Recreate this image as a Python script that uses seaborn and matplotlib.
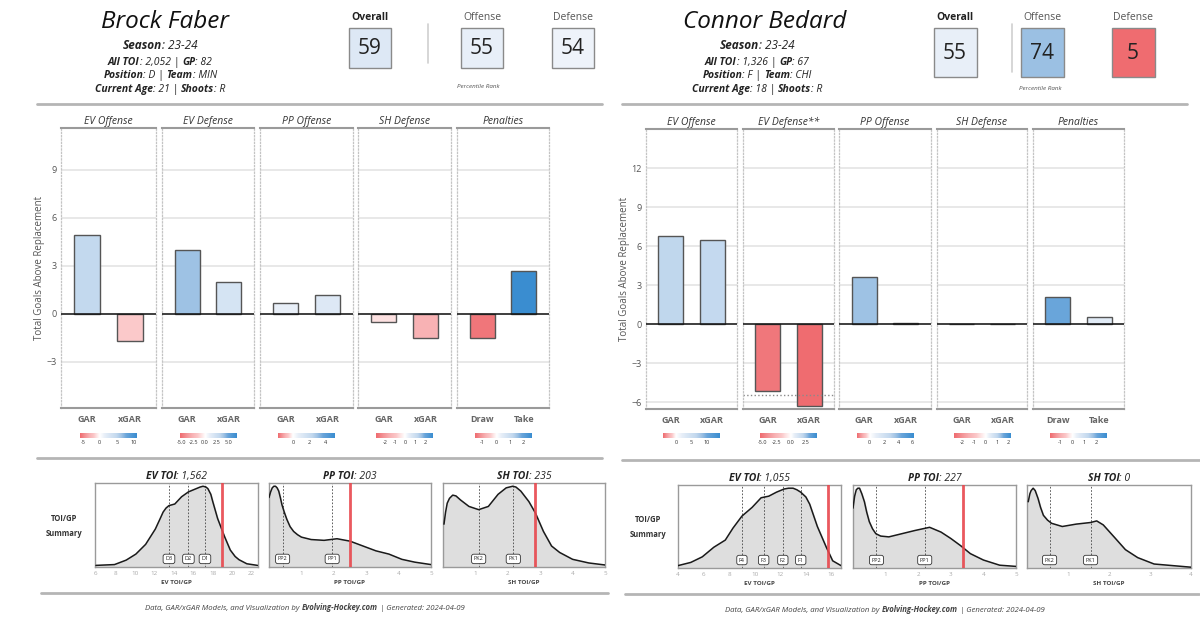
import numpy as np
import seaborn as sns
import matplotlib.pyplot as plt
from matplotlib.colors import LinearSegmentedColormap, Normalize, TwoSlopeNorm
from matplotlib.patches import Rectangle

# header info
players = ["Brock Faber", "Connor Bedard"]
seasons = ["23-24", "23-24"]
all_toi = ["2,052", "1,326"]
games = ["82", "67"]
positions = ["D", "F"]
teams = ["MIN", "CHI"]
ages = ["21", "18"]
shoots = ["R", "R"]
pct_labels = ["Overall", "Offense", "Defense"]
faber_pct = [59, 55, 54]
bedard_pct = [55, 74, 5]

# GAR bars
faber_titles = ["EV Offense", "EV Defense", "PP Offense", "SH Defense", "Penalties"]
bedard_titles = ["EV Offense", "EV Defense**", "PP Offense", "SH Defense", "Penalties"]
bar_cats = [["GAR", "xGAR"], ["GAR", "xGAR"], ["GAR", "xGAR"], ["GAR", "xGAR"], ["Draw", "Take"]]
faber_gar = [[4.9, -1.7], [4.0, 2.0], [0.65, 1.15], [-0.5, -1.5], [-1.5, 2.65]]
bedard_gar = [[6.8, 6.45], [-5.1, -6.25], [3.6, 0.1], [0.02, 0.02], [2.1, 0.55]]
bedard_ev_def_ref = -5.41
faber_scale = [(-5.8, 10.9), (-5.5, 6.8), (-1.8, 5.1), (-2.9, 2.8), (-1.6, 2.6)]
faber_scale_ticks = [[-5, 0, 5, 10], [-5, -2.5, 0, 2.5, 5], [0, 2, 4], [-2, -1, 0, 1, 2], [-1, 0, 1, 2]]
bedard_scale = [(-4.3, 14.6), (-5.5, 4.6), (-1.8, 6.1), (-2.8, 2.2), (-1.9, 2.9)]
bedard_scale_ticks = [[0, 5, 10], [-5, -2.5, 0, 2.5], [0, 2, 4, 6], [-2, -1, 0, 1, 2], [-1, 0, 1, 2]]
faber_yticks = [-3, 0, 3, 6, 9]
bedard_yticks = [-6, -3, 0, 3, 6, 9, 12]

# TOI/GP summary
toi_names = ["EV TOI", "PP TOI", "SH TOI"]
toi_xlabels = ["EV TOI/GP", "PP TOI/GP", "SH TOI/GP"]
faber_toi = ["1,562", "203", "235"]
bedard_toi = ["1,055", "227", "0"]
faber_player_gp = [18.95, 2.5, 2.85]
bedard_player_gp = [15.75, 3.36, None]

faber_ev_x = [6.0, 7.9, 9.1, 10.1, 11.1, 12.1, 12.6, 12.9, 13.2, 13.5, 14.1, 14.8, 15.5, 16.3, 16.7, 17.0, 17.3,
              17.5, 17.8, 18.0, 18.5, 19.2, 19.8, 20.3, 20.7, 21.5, 22.6]
faber_ev_y = [0.02, 0.03, 0.085, 0.16, 0.28, 0.47, 0.6, 0.68, 0.73, 0.76, 0.78, 0.87, 0.93, 0.97, 0.99, 1.0, 0.99,
              0.97, 0.9, 0.81, 0.6, 0.38, 0.21, 0.13, 0.09, 0.04, 0.02]
faber_pp_x = [0.0, 0.05, 0.1, 0.15, 0.2, 0.25, 0.3, 0.35, 0.4, 0.47, 0.55, 0.65, 0.76, 0.88, 1.0, 1.3, 1.7, 2.1,
              2.5, 2.9, 3.3, 3.7, 4.1, 4.5, 5.0]
faber_pp_y = [0.86, 0.93, 0.98, 1.0, 1.0, 0.98, 0.94, 0.86, 0.77, 0.68, 0.59, 0.5, 0.44, 0.4, 0.37, 0.34, 0.33, 0.35,
              0.32, 0.26, 0.2, 0.16, 0.095, 0.06, 0.03]
faber_sh_x = [0.03, 0.08, 0.13, 0.2, 0.3, 0.4, 0.54, 0.8, 1.1, 1.4, 1.7, 1.95, 2.05, 2.15, 2.25, 2.4, 2.65, 2.85,
              3.1, 3.35, 3.6, 4.0, 4.5, 5.0]
faber_sh_y = [0.53, 0.68, 0.79, 0.85, 0.89, 0.88, 0.83, 0.75, 0.71, 0.75, 0.9, 0.98, 0.99, 1.0, 0.99, 0.94, 0.81,
              0.67, 0.44, 0.26, 0.18, 0.095, 0.05, 0.025]
bedard_ev_x = [4.0, 5.0, 5.9, 6.8, 7.7, 8.3, 9.0, 9.8, 10.5, 11.1, 11.7, 12.3, 12.65, 13.0, 13.3, 13.6, 14.0, 14.3,
               14.9, 15.6, 16.1, 16.75]
bedard_ev_y = [0.03, 0.07, 0.14, 0.26, 0.35, 0.5, 0.65, 0.76, 0.88, 0.9, 0.95, 0.99, 1.0, 1.0, 0.98, 0.95, 0.89,
               0.8, 0.52, 0.26, 0.09, 0.03]
bedard_pp_x = [0.0, 0.05, 0.1, 0.15, 0.2, 0.27, 0.35, 0.42, 0.5, 0.6, 0.7, 0.85, 1.1, 1.5, 1.9, 2.35, 2.7, 3.0,
               3.3, 3.6, 4.0, 4.5, 5.0]
bedard_pp_y = [0.75, 0.9, 0.98, 1.0, 1.0, 0.93, 0.83, 0.7, 0.58, 0.49, 0.43, 0.4, 0.39, 0.43, 0.47, 0.51, 0.45,
               0.37, 0.28, 0.18, 0.1, 0.035, 0.02]
bedard_sh_x = [0.03, 0.07, 0.1, 0.15, 0.2, 0.27, 0.33, 0.4, 0.5, 0.6, 0.86, 1.2, 1.55, 1.7, 1.86, 2.14, 2.4, 2.7,
               3.1, 4.0]
bedard_sh_y = [0.83, 0.93, 0.97, 1.0, 0.97, 0.87, 0.76, 0.66, 0.6, 0.56, 0.52, 0.55, 0.57, 0.59, 0.54, 0.38, 0.23,
               0.13, 0.05, 0.01]

faber_marks = [[("D3", 13.5), ("D2", 15.5), ("D1", 17.2)], [("PP2", 0.42), ("PP1", 1.95)], [("PK2", 1.1), ("PK1", 2.17)]]
bedard_marks = [[("F4", 9.0), ("F3", 10.7), ("F2", 12.2), ("F1", 13.6)], [("PP2", 0.72), ("PP1", 2.2)], [("PK2", 0.55), ("PK1", 1.55)]]
faber_dens_xlim = [(5.9, 22.65), (0, 5), (0, 5)]
faber_dens_ticks = [[6, 8, 10, 12, 14, 16, 18, 20, 22], [1, 2, 3, 4, 5], [1, 2, 3, 4, 5]]
bedard_dens_xlim = [(4, 16.75), (0, 5), (0, 4)]
bedard_dens_ticks = [[4, 6, 8, 10, 12, 14, 16], [1, 2, 3, 4, 5], [1, 2, 3, 4]]

footer = [("Data, GAR/xGAR Models, and Visualization by ", "normal"), ("Evolving-Hockey.com", "bold"),
          (" | Generated: 2024-04-09", "normal")]

sns.set_theme(style="white")
plt.rcParams['font.family'] = ['Open Sans', 'DejaVu Sans']

W, H = 1200, 621
fig = plt.figure(figsize=(W / 100, H / 100), dpi=100)
ov = fig.add_axes([0, 0, 1, 1])
ov.set_xlim(0, W)
ov.set_ylim(H, 0)
ov.axis('off')
renderer = fig.canvas.get_renderer()

cmap = LinearSegmentedColormap.from_list("gar", [
    (0.0, "#ef6c70"), (0.125, "#f39396"), (0.24, "#f8b2b4"), (0.35, "#fbc8c9"), (0.415, "#fde2e2"),
    (0.5, "#ffffff"), (0.565, "#e8eff8"), (0.615, "#dce8f5"), (0.73, "#c2d8ee"), (0.795, "#9fc2e4"),
    (0.86, "#6aa5da"), (1.0, "#3a8dd0")])
pct_norm = Normalize(10, 90)


def rect(x0, y0, x1, y1):
    return [x0 / W, 1 - y1 / H, (x1 - x0) / W, (y1 - y0) / H]


def text_w(s, size, weight, style):
    t = ov.text(0, 0, s, fontsize=size, fontweight=weight, fontstyle=style)
    w = t.get_window_extent(renderer).width
    t.remove()
    return w


def rich(x, y, parts, size, color="#222", style="italic"):
    # y is the visual middle of the line; parts share one baseline
    base = y + size * 100 / 72 * 0.36
    texts = []
    cur = 0.0
    for s, w in parts:
        adv = text_w("x" + s + "x", size, w, style) - text_w("xx", size, w, style)
        t = ov.text(cur, base, s, fontsize=size, fontweight=w, fontstyle=style,
                    color=color, ha='left', va='baseline')
        texts.append(t)
        cur += adv
    shift = x - cur / 2
    for t in texts:
        px, py = t.get_position()
        t.set_position((px + shift, py))


def header(i, cx, name_x, pcts, box_x, box_y, box_w, sep_x, pr_x, pr_y, line_x0):
    ov.text(name_x, 22, players[i], fontsize=17.5, fontstyle='italic', color='#111', ha='center', va='center')
    rich(cx, 45, [("Season", "bold"), (": " + seasons[i], "normal")], 8.5)
    rich(cx, 61, [("All TOI", "bold"), (": " + all_toi[i] + " | ", "normal"), ("GP", "bold"), (": " + games[i], "normal")], 7.5)
    rich(cx, 74.5, [("Position", "bold"), (": " + positions[i] + " | ", "normal"), ("Team", "bold"), (": " + teams[i], "normal")], 7.5)
    rich(cx, 88, [("Current Age", "bold"), (": " + ages[i] + " | ", "normal"), ("Shoots", "bold"), (": " + shoots[i], "normal")], 7.5)
    for lab, val, bx in zip(pct_labels, pcts, box_x):
        ov.add_patch(Rectangle((bx - box_w / 2, box_y[0]), box_w, box_y[1] - box_y[0],
                               facecolor=cmap(pct_norm(val)), edgecolor='#8a8a8a', lw=1))
        ov.text(bx, (box_y[0] + box_y[1]) / 2 + 1, str(val), fontsize=15, color='#222', ha='center', va='center')
        ov.text(bx, 17, lab, fontsize=7.5, color='#222' if lab == "Overall" else '#555',
                fontweight='bold' if lab == "Overall" else 'normal', ha='center', va='center')
    ov.plot([sep_x, sep_x], [24, box_y[1] - 5], color='#cfcfcf', lw=1.2)
    ov.text(pr_x, pr_y, "Percentile Rank", fontsize=4.5, fontstyle='italic', color='#555', ha='center', va='center')
    ov.plot([line_x0, line_x0 + 565], [104, 104], color='#b5b5b5', lw=2)


def bar_panels(titles, gar, scales, sticks, panels_x, py, yticks, ylim, ref=None):
    for k in range(5):
        x0, x1 = panels_x[k]
        ax = fig.add_axes(rect(x0, py[0], x1, py[1]))
        lo, hi = scales[k]
        norm = TwoSlopeNorm(vcenter=0, vmin=lo, vmax=hi)
        cols = [cmap(norm(v)) for v in gar[k]]
        sns.barplot(x=bar_cats[k], y=gar[k], hue=bar_cats[k], palette=dict(zip(bar_cats[k], cols)),
                    width=0.6, saturation=1, edgecolor='#555555', linewidth=1, legend=False, ax=ax)
        ax.set_xlim(-0.6, 1.6)
        ax.set_ylim(*ylim)
        ax.set_yticks(yticks)
        ax.yaxis.grid(True, color='#e4e4e4', lw=1.2)
        ax.xaxis.grid(False)
        ax.set_axisbelow(True)
        ax.axhline(0, color='#111', lw=1.1, zorder=3)
        if ref is not None and k == 1:
            ax.axhline(ref, color='#8a8a8a', ls=':', lw=1, zorder=1)
        for s in ['top', 'bottom']:
            ax.spines[s].set_color('#9a9a9a')
            ax.spines[s].set_linewidth(1.5)
        for s in ['left', 'right']:
            ax.spines[s].set_color('#c4c4c4')
            ax.spines[s].set_linestyle(':')
            ax.spines[s].set_linewidth(0.9)
        ax.set_title(titles[k], fontsize=7.5, fontstyle='italic', color='#333', pad=3)
        ax.tick_params(axis='x', length=0, labelsize=6.5, labelcolor='#666', pad=5)
        for t in ax.get_xticklabels():
            t.set_fontweight('bold')
        ax.tick_params(axis='y', length=0, labelsize=6.5, labelcolor='#555', pad=3)
        ax.set_xlabel("")
        if k == 0:
            ax.set_ylabel("Total Goals Above Replacement", fontsize=7, color='#555', labelpad=1)
        else:
            ax.tick_params(labelleft=False)
            ax.set_ylabel("")
        # colour scale under the panel
        cx = (x0 + x1) / 2
        cax = fig.add_axes(rect(cx - 28.5, 433, cx + 28.5, 438))
        grad = np.linspace(lo, hi, 256)
        cax.imshow(grad[None, :], aspect='auto', cmap=cmap, norm=norm, extent=(lo, hi, 0, 1))
        cax.set_xlim(lo, hi)
        cax.set_yticks([])
        cax.set_xticks(sticks[k])
        if k == 1:
            cax.set_xticklabels([f"{t:.1f}" for t in sticks[k]])
        else:
            cax.set_xticklabels([f"{t:g}" for t in sticks[k]])
        cax.tick_params(length=0, labelsize=4, labelcolor='#333', pad=1.5)
        for s in cax.spines.values():
            s.set_visible(False)


def density_panels(curves, marks, player_gp, toi_vals, xlims, xticks, dens_x, py):
    for k in range(3):
        x0, x1 = dens_x[k]
        ax = fig.add_axes(rect(x0, py[0], x1, py[1]))
        xs, ys = curves[k]
        ax.fill_between(xs, ys, 0, color='#dedede', zorder=0)
        sns.lineplot(x=xs, y=ys, color='#1a1a1a', lw=1.1, ax=ax, zorder=3)
        for lab, xv in marks[k]:
            ax.axvline(xv, color='#444', ls=(0, (2, 2)), lw=0.6, zorder=2)
            ax.text(xv, 0.1, lab, fontsize=4, ha='center', va='center', color='#222', zorder=5,
                    bbox=dict(boxstyle='round,pad=0.4', fc='white', ec='#333', lw=0.6))
        if player_gp[k] is not None:
            ax.axvline(player_gp[k], color='#e8474d', lw=2, alpha=0.9, zorder=4)
        ax.set_xlim(*xlims[k])
        ax.set_ylim(0, 1.04)
        ax.set_yticks([])
        ax.set_xticks(xticks[k])
        ax.tick_params(axis='x', length=0, labelsize=4.5, labelcolor='#aaa', pad=3)
        ax.set_xlabel(toi_xlabels[k], fontsize=4.5, fontweight='bold', color='#444', labelpad=3)
        for s in ax.spines.values():
            s.set_color('#9a9a9a')
            s.set_linewidth(1)
        rich((x0 + x1) / 2, py[0] - 8, [(toi_names[k], "bold"), (": " + toi_vals[k], "normal")], 7.5)


# left player
header(0, 160, 165, faber_pct, [370, 482, 573], (28, 68), 42, 428, 478, 87, 37)
bar_panels(faber_titles, faber_gar, faber_scale, faber_scale_ticks,
           [(61, 156), (162, 254), (260, 353), (358, 451), (457, 549)], (128, 408),
           faber_yticks, (-5.9, 11.6))
ov.plot([37, 602], [458, 458], color='#b5b5b5', lw=2)
ov.text(64, 526, "TOI/GP\nSummary", fontsize=5.5, fontweight='bold', color='#333', ha='center', va='center', linespacing=1.8)
density_panels([(faber_ev_x, faber_ev_y), (faber_pp_x, faber_pp_y), (faber_sh_x, faber_sh_y)],
               faber_marks, faber_player_gp, faber_toi, faber_dens_xlim, faber_dens_ticks,
               [(95, 258), (269, 431), (443, 605)], (483, 567))
ov.plot([41, 608], [593, 593], color='#b5b5b5', lw=2)
rich(305, 607, footer, 5.6, color='#444')

# right player
header(1, 757, 765, bedard_pct, [955, 1042, 1133], (28, 77), 43, 1012, 1040, 89, 622)
bar_panels(bedard_titles, bedard_gar, bedard_scale, bedard_scale_ticks,
           [(646, 737), (743, 834), (839, 931), (937, 1027), (1033, 1124)], (129, 409),
           bedard_yticks, (-6.5, 15.0), ref=bedard_ev_def_ref)
ov.plot([622, 1200], [460, 460], color='#b5b5b5', lw=2)
ov.text(648, 527, "TOI/GP\nSummary", fontsize=5.5, fontweight='bold', color='#333', ha='center', va='center', linespacing=1.8)
density_panels([(bedard_ev_x, bedard_ev_y), (bedard_pp_x, bedard_pp_y), (bedard_sh_x, bedard_sh_y)],
               bedard_marks, bedard_player_gp, bedard_toi, bedard_dens_xlim, bedard_dens_ticks,
               [(678, 841), (853, 1016), (1027, 1191)], (485, 568))
ov.plot([625, 1199], [594, 594], color='#b5b5b5', lw=2)
rich(885, 609, footer, 5.6, color='#444')

fig.savefig("out.png", dpi=100, facecolor='white')
